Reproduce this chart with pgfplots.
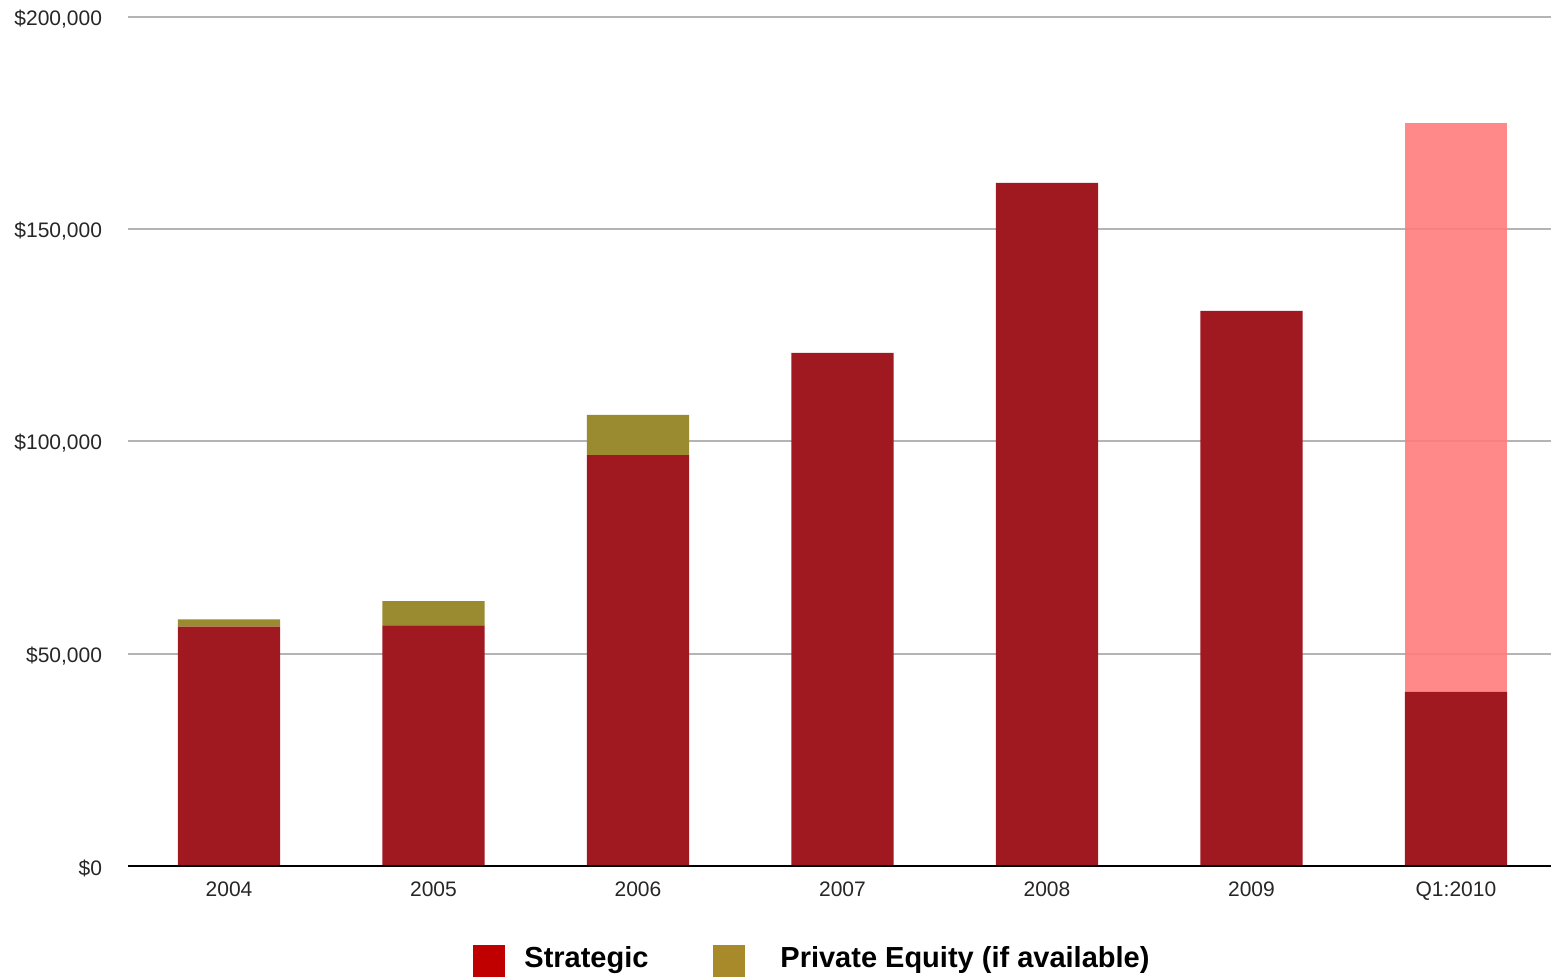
\documentclass[border=0pt]{standalone}
\usepackage{pgfplots}
\pgfplotsset{compat=1.18}
\usepackage{fontspec}
\setmainfont{Liberation Sans}

\definecolor{strategic}{HTML}{A01820}
\definecolor{privateeq}{HTML}{9A8A30}
\definecolor{projected}{HTML}{FF7C7C}
\definecolor{legstrat}{HTML}{C00000}
\definecolor{legpe}{HTML}{A88A2A}
\definecolor{gridgray}{HTML}{B4B4B4}

\begin{document}
\begin{tikzpicture}
% page frame: 775.5pt x 488.5pt, axis box lower-left at the origin
\useasboundingbox (-64pt,-55.5pt) rectangle (711.5pt,433pt);
\begin{axis}[
  at={(0,0)}, anchor=south west,
  scale only axis,
  width=711.5pt, height=424.5pt,
  ybar stacked,
  bar width=0.5,
  bar shift=0pt,
  xmin=-0.494, xmax=6.465,
  ymin=0, ymax=200000,
  xtick={0,...,6},
  xticklabels={2004,2005,2006,2007,2008,2009,Q1:2010},
  ytick={0,50000,100000,150000,200000},
  yticklabels={{\$0},{\$50,000},{\$100,000},{\$150,000},{\$200,000}},
  tick label style={font=\fontsize{10.5pt}{12pt}\selectfont, text=black!85},
  yticklabel style={inner sep=0pt, xshift=-12.8pt, yshift=-1pt},
  xticklabel style={yshift=-4.5pt},
  major tick length=0pt,
  axis line style={draw=none},
  ymajorgrids,
  grid style={gridgray, line width=1pt},
  clip=false,
]
\addplot[fill=strategic, draw=none] coordinates
  {(0,56370) (1,56700) (2,96800) (3,120850) (4,160900) (5,130750) (6,41000)};
\addplot[fill=privateeq, draw=none] coordinates
  {(0,1740) (1,5720) (2,9460) (3,0) (4,0) (5,0) (6,0)};
\addplot[fill=projected, fill opacity=0.9, draw=none] coordinates
  {(0,0) (1,0) (2,0) (3,0) (4,0) (5,0) (6,134000)};
\end{axis}
% baseline
\draw[black, line width=0.6pt] (0,0) -- (711.5pt,0);
% legend
\fill[legstrat] (172.5pt,-55.5pt) rectangle (188.5pt,-39.5pt);
\node[anchor=west, inner sep=0pt, font=\bfseries\fontsize{14.5pt}{17pt}\selectfont] at (198pt,-47pt) {Strategic};
\fill[legpe] (292.5pt,-55.5pt) rectangle (308.5pt,-39.5pt);
\node[anchor=west, inner sep=0pt, font=\bfseries\fontsize{14.5pt}{17pt}\selectfont] at (326pt,-47pt) {Private Equity (if available)};
\end{tikzpicture}
\end{document}
